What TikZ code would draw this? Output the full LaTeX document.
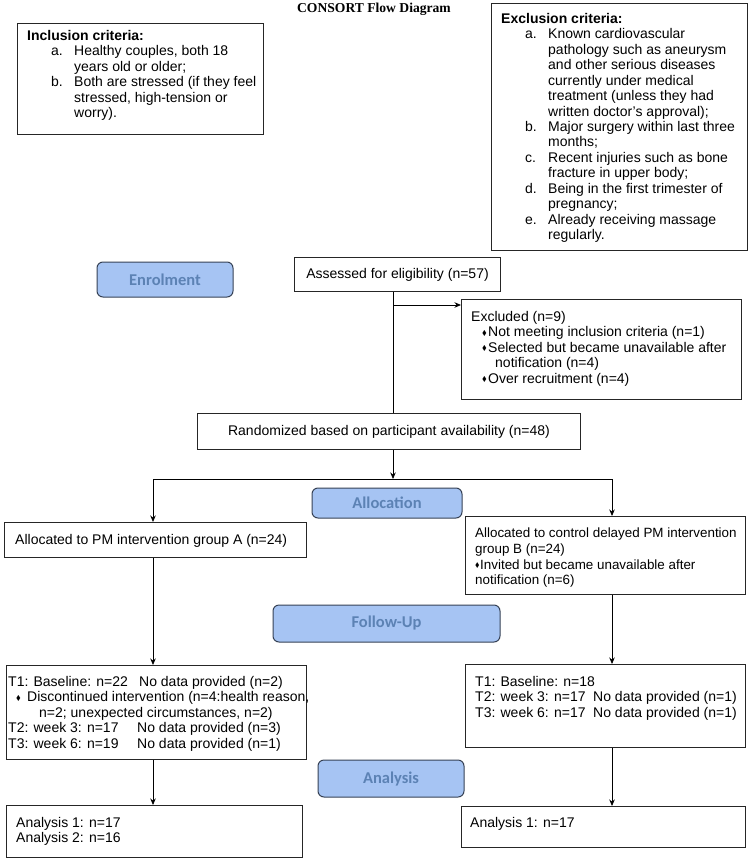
\documentclass[tikz,border=0pt]{standalone}
\usepackage{amssymb}
\usepackage{fontspec}
\setmainfont{Liberation Sans}
\newfontfamily\btnfont{Carlito}
\newfontfamily\ttlfont{Liberation Serif}
\usetikzlibrary{arrows.meta}
\definecolor{btnfill}{RGB}{166,196,243}
\definecolor{btnborder}{RGB}{55,66,86}
\definecolor{btntext}{RGB}{92,130,180}
\newcommand\dia{\raisebox{1.6pt}{\scalebox{0.5}{$\blacklozenge$}}}
\newcommand\itm[1]{\hspace*{24pt}\makebox[23pt][l]{#1}}
\newcommand\cnt{\hspace*{47pt}}
\begin{document}
\begin{tikzpicture}[x=1pt,y=-1pt,
  box/.style={draw=black!85, line width=1pt, inner sep=0pt, anchor=north west},
  bt/.style={font=\fontsize{14}{15.45}\selectfont},
  txt/.style={bt, align=left, inner sep=0pt, anchor=north west},
  btn/.style={draw=btnborder, fill=btnfill, rounded corners=6pt, line width=1pt, inner sep=0pt, text=btntext, font=\btnfont\bfseries\fontsize{16.5}{18}\selectfont},
  arr/.style={-{Stealth[length=6.5pt,width=5.5pt]}, line width=0.8pt},
  ln/.style={line width=0.8pt}]
\fill[white] (0,0) rectangle (750,861);
\useasboundingbox (0,0) rectangle (750,861);

% title
\node[font=\ttlfont\bfseries\fontsize{13.6}{15}\selectfont, inner sep=0pt, anchor=base] (title) at (374,12.5) {CONSORT Flow Diagram};

% inclusion
\node[box, minimum width=246pt, minimum height=111pt] (incl) at (17,23) {};
\node[txt] (incltxt) at (27,30) {\textbf{Inclusion criteria:}\\
\itm{a.}Healthy couples, both 18\\
\cnt years old or older;\\
\itm{b.}Both are stressed (if they feel\\
\cnt stressed, high-tension or\\
\cnt worry).};

% exclusion
\node[box, minimum width=256pt, minimum height=247pt] (excl) at (491,3) {};
\node[txt] (excltxt) at (501,13) {\textbf{Exclusion criteria:}\\
\itm{a.}Known cardiovascular\\
\cnt pathology such as aneurysm\\
\cnt and other serious diseases\\
\cnt currently under medical\\
\cnt treatment (unless they had\\
\cnt written doctor's approval);\\
\itm{b.}Major surgery within last three\\
\cnt months;\\
\itm{c.}Recent injuries such as bone\\
\cnt fracture in upper body;\\
\itm{d.}Being in the first trimester of\\
\cnt pregnancy;\\
\itm{e.}Already receiving massage\\
\cnt regularly.};

% buttons
\node[btn, minimum width=136pt, minimum height=35pt] (enrol) at (165,279.5) {Enrolment};
\node[btn, minimum width=150pt, minimum height=30pt] (alloc) at (387,503) {Allocation};
\node[btn, minimum width=227pt, minimum height=37pt] (follow) at (386.5,623.5) {Follow-Up};
\node[btn, minimum width=146pt, minimum height=37pt] (anal) at (391,778.5) {Analysis};

% assessed
\node[box, bt, minimum width=206pt, minimum height=34pt] (assess) at (294,257) {Assessed for eligibility (n=57)};

% excluded
\node[box, minimum width=280pt, minimum height=100pt] (excluded) at (461,299) {};
\node[txt] (excludedtxt) at (471,311) {Excluded (n=9)\\
\hspace*{11pt}\makebox[6pt][l]{\dia}Not meeting inclusion criteria (n=1)\\
\hspace*{11pt}\makebox[6pt][l]{\dia}Selected but became unavailable after\\
\hspace*{24pt}notification (n=4)\\
\hspace*{11pt}\makebox[6pt][l]{\dia}Over recruitment (n=4)};

% randomized
\node[box, bt, minimum width=383pt, minimum height=36pt] (rand) at (197,413) {Randomized based on participant availability (n=48)};

% allocation boxes
\node[box, minimum width=302pt, minimum height=35pt] (allocA) at (4,522) {};
\node[txt] (allocAtxt) at (15,534) {Allocated to PM intervention group A (n=24)};
\node[box, minimum width=280pt, minimum height=78pt] (allocB) at (465,516) {};
\node[txt, font=\fontsize{13.4}{15.6}\selectfont] (allocBtxt) at (475,528) {Allocated to control delayed PM intervention\\
group B (n=24)\\
\makebox[5pt][l]{\dia}Invited but became unavailable after\\
notification (n=6)};

% follow-up boxes
\node[box, minimum width=300pt, minimum height=94pt] (lT1) at (6,665) {};
\node[txt] (lT1txt) at (8,676) {\makebox[131pt][l]{T1: Baseline: n=22}No data provided (n=2)\\
\hspace*{8pt}\makebox[11pt][l]{\dia}Discontinued intervention (n=4:health reason,\\
\hspace*{31pt}n=2; unexpected circumstances, n=2)\\
\makebox[129pt][l]{T2: week 3: n=17}No data provided (n=3)\\
\makebox[129pt][l]{T3: week 6: n=19}No data provided (n=1)};
\node[box, minimum width=280pt, minimum height=83pt] (rT1) at (465,664) {};
\node[txt] (rT1txt) at (475,676) {T1: Baseline: n=18\\
\makebox[118pt][l]{T2: week 3: n=17}No data provided (n=1)\\
\makebox[118pt][l]{T3: week 6: n=17}No data provided (n=1)};

% analysis boxes
\node[box, minimum width=296pt, minimum height=52pt] (lAn) at (6,805) {};
\node[txt] (lAntxt) at (16,817) {Analysis 1: n=17\\ Analysis 2: n=16};
\node[box, minimum width=284pt, minimum height=41pt] (rAn) at (461,806) {};
\node[txt] (rAntxt) at (470,817) {Analysis 1: n=17};

% connectors
\coordinate (c1) at (393,305);
\coordinate (split) at (393,479);
\coordinate (colL) at (153,0);
\coordinate (colR) at (612,0);
\draw[ln] (assess.south -| c1) -- (rand.north -| c1);
\draw[arr] (c1) -- (c1 -| excluded.west);
\draw[arr] (rand.south -| split) -- (split);
\draw[arr] (split) -| (allocA.north -| colL);
\draw[arr] (split) -| (allocB.north -| colR);
\draw[arr] (allocA.south -| colL) -- (lT1.north -| colL);
\draw[arr] (allocB.south -| colR) -- (rT1.north -| colR);
\draw[arr] (lT1.south -| colL) -- (lAn.north -| colL);
\draw[arr] (rT1.south -| colR) -- (rAn.north -| colR);
\end{tikzpicture}
\end{document}
